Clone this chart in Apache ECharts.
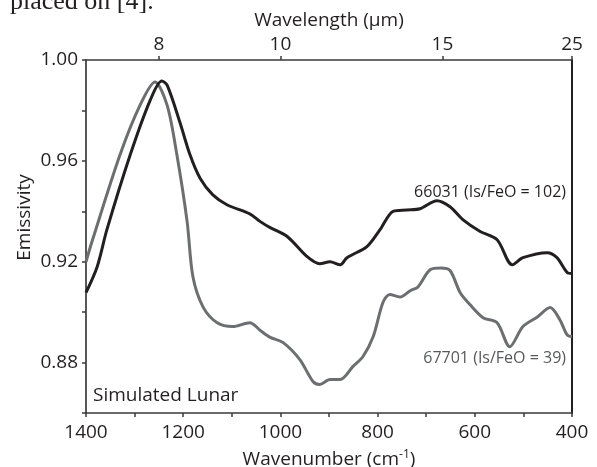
<!DOCTYPE html>
<html>
<head>
<meta charset="utf-8">
<script src="https://cdn.jsdelivr.net/npm/echarts@6/dist/echarts.min.js"></script>
<style>
  html, body { margin: 0; padding: 0; background: #fff; }
  #chart { width: 597px; height: 467px; }
</style>
</head>
<body>
<div id="chart"></div>
<script>
// sample 66031 (Is/FeO = 102), wavenumber in cm-1
const wn66031 = [1400, 1377, 1357, 1309, 1268, 1244, 1233, 1207, 1186, 1165, 1139, 1110, 1063, 1042, 1021, 986, 945, 919, 898, 877, 863, 822, 795, 768, 740, 713, 678, 651, 624, 589, 554, 523, 501, 451, 431, 410, 400]
const em66031 = [0.9077, 0.918, 0.9327, 0.9624, 0.984, 0.9917, 0.990, 0.9754, 0.9624, 0.953, 0.9465, 0.9426, 0.9390, 0.936, 0.9335, 0.930, 0.922, 0.9192, 0.920, 0.9188, 0.9216, 0.926, 0.9327, 0.940, 0.9405, 0.941, 0.9442, 0.9418, 0.9366, 0.932, 0.9287, 0.9188, 0.9216, 0.9236, 0.9216, 0.9157, 0.9153]

// sample 67701 (Is/FeO = 39)
const wn67701 = [1400, 1386, 1330, 1289, 1258, 1233, 1213, 1192, 1180, 1159, 1130, 1098, 1063, 1040, 1021, 995, 960, 933, 919, 898, 877, 851, 830, 809, 789, 775, 754, 733, 717, 692, 670, 651, 630, 610, 583, 554, 528, 501, 472, 445, 425, 410, 400]
const em67701 = [0.920, 0.929, 0.9624, 0.982, 0.9913, 0.982, 0.9624, 0.936, 0.914, 0.902, 0.8958, 0.8943, 0.8958, 0.8925, 0.890, 0.888, 0.8812, 0.8725, 0.8713, 0.8733, 0.8733, 0.8784, 0.8824, 0.8903, 0.9038, 0.907, 0.906, 0.9085, 0.910, 0.9168, 0.9175, 0.9165, 0.9077, 0.903, 0.8978, 0.8958, 0.8863, 0.8943, 0.898, 0.9018, 0.897, 0.891, 0.8903]

// top axis: wavelength ticks in um
const wavelengthTicks = [8, 10, 15, 25]

const FONT = '"Open Sans", sans-serif'
const AXIS_COLOR = '#3a3a3a'

const pairs = (xs, ys) => xs.map((x, i) => [x, ys[i]])

const chart = echarts.init(document.getElementById('chart'))

chart.setOption({
  animation: false,
  grid: { left: 86, right: 25, top: 60, bottom: 54, outerBoundsMode: 'none', containLabel: false },
  xAxis: [
    {
      type: 'value',
      position: 'bottom',
      min: 400,
      max: 1400,
      interval: 100,
      inverse: true,
      name: '{t|Wavenumber (cm}{s|-1}{t|)}',
      nameLocation: 'middle',
      nameGap: 36,
      nameTextStyle: {
        rich: {
          t: { fontFamily: FONT, fontSize: 19, color: '#231f20' },
          s: { fontFamily: FONT, fontSize: 12, color: '#231f20', padding: [0, 0, 9, 0] },
        },
      },
      axisLine: { onZero: false, lineStyle: { color: AXIS_COLOR, width: 1.5 } },
      axisTick: { length: 4, lineStyle: { color: AXIS_COLOR, width: 1.5 } },
      axisLabel: {
        margin: 10,
        fontFamily: FONT,
        fontSize: 19,
        color: '#231f20',
        formatter: (v) => (v % 200 === 0 ? String(v) : ''),
      },
      splitLine: { show: false },
    },
    {
      type: 'value',
      position: 'top',
      min: 400,
      max: 1400,
      inverse: true,
      name: 'Wavelength (μm)',
      nameLocation: 'middle',
      nameGap: 30,
      nameTextStyle: { fontFamily: FONT, fontSize: 19, color: '#231f20' },
      axisLine: { onZero: false, lineStyle: { color: AXIS_COLOR, width: 1.5 } },
      axisTick: {
        length: 4,
        customValues: wavelengthTicks.map((w) => 10000 / w),
        lineStyle: { color: AXIS_COLOR, width: 1.5 },
      },
      axisLabel: {
        margin: 6,
        fontFamily: FONT,
        fontSize: 19,
        color: '#231f20',
        customValues: wavelengthTicks.map((w) => 10000 / w),
        formatter: (v) => String(Math.round(10000 / v)),
      },
      splitLine: { show: false },
    },
  ],
  yAxis: [
    {
      type: 'value',
      min: 0.86,
      max: 1.0,
      interval: 0.02,
      name: 'Emissivity',
      nameLocation: 'middle',
      nameGap: 52,
      nameMoveOverlap: false,
      nameTextStyle: { fontFamily: FONT, fontSize: 19, color: '#231f20', padding: [0, 0, 0, 38] },
      axisLine: { show: true, onZero: false, lineStyle: { color: '#231f20', width: 1.5 } },
      axisTick: { show: true, length: 4, lineStyle: { color: AXIS_COLOR, width: 1.5 } },
      axisLabel: {
        margin: 8,
        fontFamily: FONT,
        fontSize: 19,
        color: '#231f20',
        formatter: (v) => (Math.round(v * 100) % 4 === 0 ? v.toFixed(2) : ''),
      },
      splitLine: { show: false },
    },
    {
      type: 'value',
      position: 'right',
      min: 0.86,
      max: 1.0,
      axisLine: { show: true, onZero: false, lineStyle: { color: '#231f20', width: 2 } },
      axisTick: { show: false },
      axisLabel: { show: false },
      splitLine: { show: false },
    },
  ],
  series: [
    {
      name: '66031',
      type: 'line',
      data: pairs(wn66031, em66031),
      smooth: 0.3,
      showSymbol: false,
      lineStyle: { color: '#231f20', width: 3 },
      z: 3,
    },
    {
      name: '67701',
      type: 'line',
      data: pairs(wn67701, em67701),
      smooth: 0.3,
      showSymbol: false,
      lineStyle: { color: '#6d6e71', width: 3 },
      z: 2,
    },
  ],
  graphic: [
    {
      type: 'text',
      left: 10,
      top: -11,
      style: { text: 'placed on [4].', font: '26px "Liberation Serif", serif', fill: '#231f20' },
    },
    {
      type: 'text',
      x: 566,
      y: 192,
      style: {
        text: '66031 (Is/FeO = 102)',
        font: '16px "Open Sans", sans-serif',
        fill: '#231f20',
        align: 'right',
        verticalAlign: 'middle',
      },
    },
    {
      type: 'text',
      x: 566,
      y: 358,
      style: {
        text: '67701 (Is/FeO = 39)',
        font: '16px "Open Sans", sans-serif',
        fill: '#58595b',
        align: 'right',
        verticalAlign: 'middle',
      },
    },
    {
      type: 'text',
      x: 93,
      y: 396,
      style: {
        text: 'Simulated Lunar',
        font: '19px "Open Sans", sans-serif',
        fill: '#231f20',
        verticalAlign: 'middle',
      },
    },
  ],
})
</script>
</body>
</html>
